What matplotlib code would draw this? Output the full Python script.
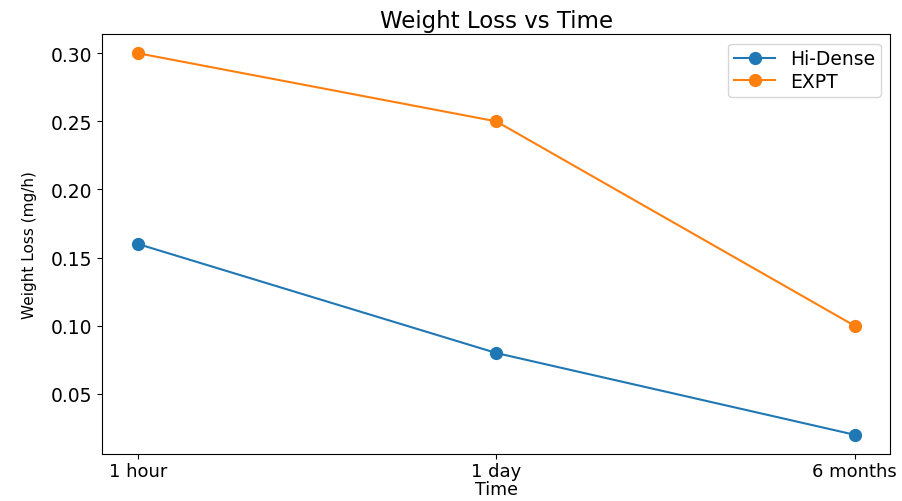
import matplotlib.pyplot as plt

time_labels = ['1 hour', '1 day', '6 months']
hi_dense = [0.16, 0.08, 0.02]
expt = [0.30, 0.25, 0.10]

fig = plt.figure(figsize=(9.03, 5.02), dpi=100)
ax = fig.add_axes([0.113, 0.094, 0.873, 0.836])

ax.plot(time_labels, hi_dense, marker='o', markersize=8.5, label='Hi-Dense')
ax.plot(time_labels, expt, marker='o', markersize=8.5, label='EXPT')

ax.set_title('Weight Loss vs Time', fontsize=16.5, pad=5)
ax.set_xlabel('Time', fontsize=12.5, labelpad=0)
ax.set_ylabel('Weight Loss (mg/h)', fontsize=11, labelpad=10)
ax.tick_params(axis='y', labelsize=13.5)
ax.tick_params(axis='x', labelsize=13, pad=2.5)

ax.legend(fontsize=13.5, labelspacing=0.2, borderpad=0.3, handlelength=2.2)

fig.savefig('out.png', dpi=100)
